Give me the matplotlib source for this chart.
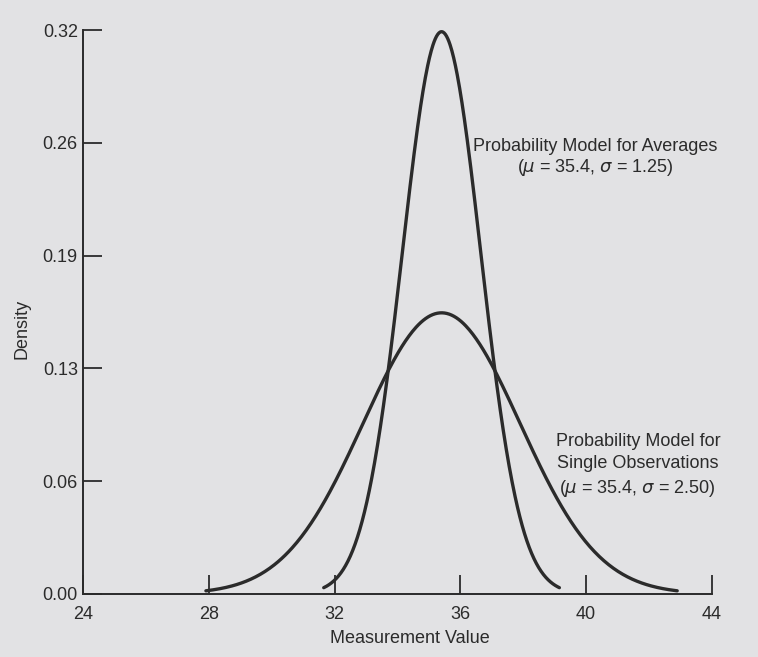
import numpy as np
import matplotlib
matplotlib.use("Agg")
import matplotlib.pyplot as plt

# Two normal probability models for a measurement
model_names = ["Probability Model for Averages",
               "Probability Model for\nSingle Observations"]
model_means = [35.4, 35.4]
model_sds = [1.25, 2.50]
sd_labels = ["1.25", "2.50"]
curve_halfwidth_sd = 3.0

x_ticks = [24, 28, 32, 36, 40, 44]
y_ticks = [0.0, 0.064, 0.128, 0.192, 0.256, 0.32]

ink = "#2b2b2b"
paper = "#e2e2e4"
fs = 13

plt.rcParams["font.family"] = ["Liberation Sans", "DejaVu Sans"]
plt.rcParams["mathtext.fontset"] = "dejavusans"

fig = plt.figure(figsize=(7.58, 6.57), dpi=100, facecolor=paper)
ax = fig.add_axes([0.110, 0.096, 0.829, 0.858])
ax.set_facecolor(paper)

for mu, sd in zip(model_means, model_sds):
    xs = np.linspace(mu - curve_halfwidth_sd * sd, mu + curve_halfwidth_sd * sd, 400)
    ys = np.exp(-0.5 * ((xs - mu) / sd) ** 2) / (sd * np.sqrt(2 * np.pi))
    ax.plot(xs, ys, color=ink, lw=2.4, solid_capstyle="round")

ax.set_xlim(24, 44)
ax.set_ylim(0, 0.32)
ax.set_xticks(x_ticks)
ax.set_yticks(y_ticks)
ax.set_yticklabels([f"{v:.2f}" for v in y_ticks])
ax.tick_params(axis="both", direction="in", length=14, width=1.3,
               colors=ink, labelsize=fs, pad=4)
ax.tick_params(axis="x", pad=9)

for side in ["top", "right"]:
    ax.spines[side].set_visible(False)
for side in ["left", "bottom"]:
    ax.spines[side].set_color(ink)
    ax.spines[side].set_linewidth(1.4)

ax.set_xlabel("Measurement Value", fontsize=fs, color=ink)
ax.xaxis.set_label_coords(0.52, -0.064)
ax.set_ylabel("Density", fontsize=fs, color=ink)
ax.yaxis.set_label_coords(-0.084, 0.47)

# Curve annotations
ax.text(40.3, 0.2475,
        f"{model_names[0]}\n($\\mu$ = {model_means[0]}, $\\sigma$ = {sd_labels[0]})",
        ha="center", va="center", fontsize=fs, color=ink, linespacing=1.1)
ax.text(41.65, 0.0726,
        f"{model_names[1]}\n($\\mu$ = {model_means[1]}, $\\sigma$ = {sd_labels[1]})",
        ha="center", va="center", fontsize=fs, color=ink, linespacing=1.42)

fig.savefig("out.png", dpi=100, facecolor=paper)
